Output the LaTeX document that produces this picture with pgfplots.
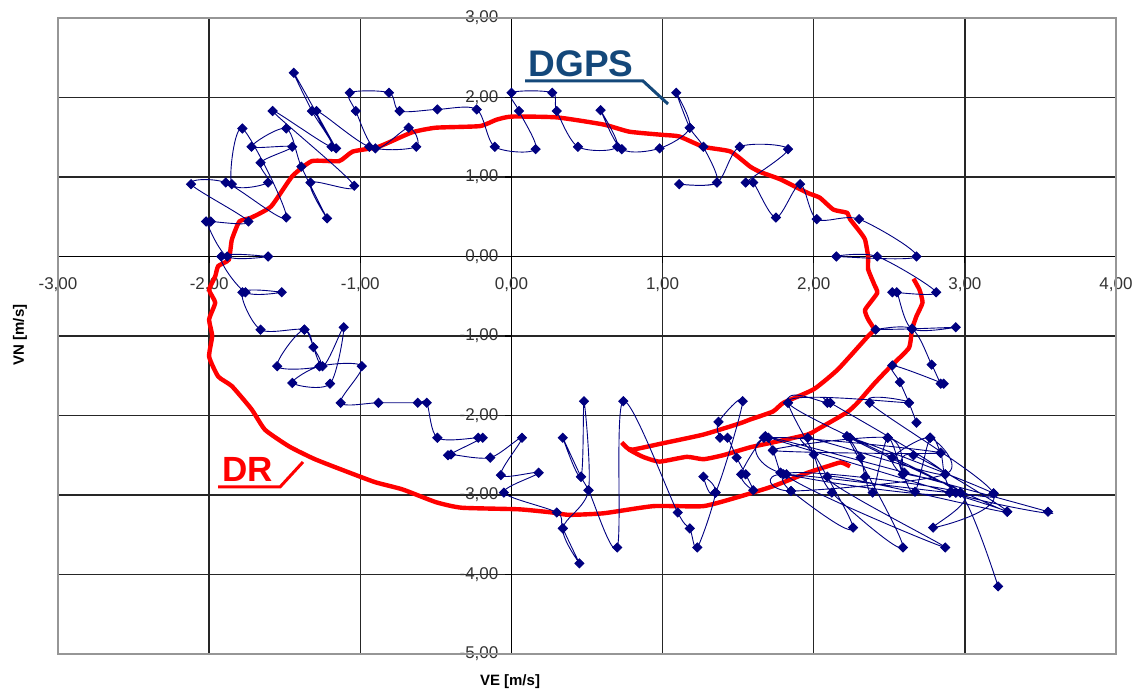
\documentclass[border=0pt]{standalone}
\usepackage{fontspec}
\setmainfont{Liberation Sans}
\usepackage{pgfplots}
\pgfplotsset{compat=1.18}
\definecolor{dgps}{RGB}{0,0,128}
\definecolor{drred}{RGB}{255,0,0}
\definecolor{lblue}{RGB}{20,72,122}
\definecolor{framegray}{RGB}{150,150,150}

\begin{document}
\begin{tikzpicture}[x=1pt,y=1pt]
\begin{axis}[
  at={(29pt,20.5pt)}, anchor=south west,
  scale only axis, width=529pt, height=318pt,
  xmin=-3, xmax=4, ymin=-5, ymax=3,
  enlargelimits=false,
  axis lines=middle,
  axis line style={-, black, line width=0.75pt},
  xtick={-3,-2,-1,0,1,2,3,4}, ytick={-5,-4,-3,-2,-1,0,1,2,3},
  xticklabels={{-3,00},{-2,00},{-1,00},{0,00},{1,00},{2,00},{3,00},{4,00}},
  yticklabels={{-5,00},{-4,00},{-3,00},{-2,00},{-1,00},{0,00},{1,00},{2,00},{3,00}},
  grid=major, major grid style={black!85, line width=0.75pt},
  hide obscured x ticks=false, hide obscured y ticks=false,
  tick style={black, line width=0.6pt}, tick align=outside, major tick length=3pt,
  tick label style={font=\fontsize{8.5}{10}\selectfont, text=black!80},
  xticklabel style={yshift=-4pt},
  clip=false,
]
% DR
\addplot[drred, line width=2.2pt, smooth, tension=0.3] coordinates {
(2.66,-0.28)(2.70,-0.42)(2.72,-0.58)(2.68,-0.75)(2.65,-0.92)(2.63,-1.15)(2.51,-1.38)(2.40,-1.60)(2.29,-1.84)(2.22,-1.96)(2.02,-2.18)(1.96,-2.24)(1.75,-2.33)(1.58,-2.40)(1.40,-2.50)(1.27,-2.55)(1.16,-2.52)(0.98,-2.58)(0.87,-2.52)(0.78,-2.43)(0.73,-2.34)(0.76,-2.40)(0.80,-2.43)(1.00,-2.35)(1.27,-2.24)(1.51,-2.10)(1.58,-2.05)(1.73,-1.95)(1.80,-1.84)(2.00,-1.67)(2.16,-1.42)(2.36,-1.00)(2.40,-0.92)(2.36,-0.79)(2.34,-0.67)(2.42,-0.46)(2.40,-0.35)(2.36,-0.16)(2.36,0.00)(2.34,0.21)(2.31,0.30)(2.24,0.47)(2.22,0.55)(2.13,0.59)(2.04,0.74)(1.96,0.80)(1.78,0.97)(1.65,1.06)(1.58,1.13)(1.45,1.32)(1.27,1.38)(1.11,1.51)(1.00,1.53)(0.78,1.57)(0.61,1.66)(0.30,1.75)(0.00,1.76)(-0.10,1.72)(-0.21,1.64)(-0.50,1.62)(-0.66,1.56)(-0.88,1.38)(-1.05,1.32)(-1.14,1.20)(-1.32,1.20)(-1.45,1.01)(-1.59,0.63)(-1.72,0.49)(-1.80,0.44)(-1.85,0.21)(-1.87,-0.04)(-1.94,-0.12)(-1.96,-0.25)(-2.00,-0.42)(-1.96,-0.58)(-2.00,-0.79)(-1.98,-1.00)(-2.00,-1.26)(-1.94,-1.51)(-1.85,-1.63)(-1.72,-1.92)(-1.63,-2.18)(-1.47,-2.39)(-1.30,-2.55)(-1.07,-2.72)(-0.90,-2.84)(-0.72,-2.93)(-0.50,-3.09)(-0.33,-3.16)(0.05,-3.18)(0.27,-3.22)(0.38,-3.25)(0.61,-3.23)(0.94,-3.14)(1.27,-3.14)(1.51,-3.02)(1.73,-2.89)(1.96,-2.72)(2.09,-2.64)(2.18,-2.59)(2.24,-2.64)
};
% DGPS
\addplot[dgps, line width=0.45pt, smooth, mark=square*, mark size=1.6pt, mark options={rotate=45, fill=dgps, draw=dgps}] coordinates {
(2.68,-2.09)(2.63,-1.84)(2.57,-1.58)(2.52,-1.37)(2.86,-1.60)(2.84,-1.60)(2.78,-1.36)(2.65,-0.91)(2.41,-0.92)(2.65,-0.91)(2.94,-0.89)(2.65,-0.91)(2.55,-0.45)(2.52,-0.45)(2.81,-0.45)(2.42,0.00)(2.15,0.00)(2.68,0.00)(2.30,0.47)(2.02,0.47)(1.91,0.91)(1.75,0.49)(1.60,0.93)(1.55,0.93)(1.83,1.35)(1.51,1.38)(1.36,0.93)(1.11,0.91)(1.36,0.93)(1.27,1.38)(1.18,1.62)(1.09,2.06)(1.18,1.62)(0.98,1.36)(0.73,1.35)(0.59,1.84)(0.70,1.38)(0.44,1.38)(0.30,1.83)(0.27,2.06)(0.00,2.06)(0.05,1.83)(0.16,1.35)(-0.11,1.38)(-0.23,1.85)(-0.49,1.85)(-0.74,1.83)(-0.81,2.06)(-1.07,2.06)(-1.03,1.83)(-0.90,1.36)(-0.68,1.62)(-0.63,1.38)(-0.94,1.38)(-1.29,1.83)(-1.16,1.36)(-1.44,2.31)(-1.32,1.83)(-1.19,1.38)(-1.58,1.83)(-1.04,0.89)(-1.33,0.93)(-1.22,0.48)(-1.39,1.13)(-1.49,1.61)(-1.72,1.38)(-1.45,1.38)(-1.66,1.18)(-1.61,0.93)(-1.85,0.91)(-1.78,1.61)(-1.49,0.49)(-1.89,0.93)(-2.12,0.91)(-1.74,0.44)(-1.99,0.44)(-2.02,0.44)(-1.88,0.00)(-1.61,0.00)(-1.92,0.00)(-1.76,-0.45)(-1.52,-0.45)(-1.78,-0.45)(-1.66,-0.92)(-1.37,-0.92)(-1.31,-1.14)(-1.27,-1.38)(-1.55,-1.38)(-1.37,-0.92)(-1.25,-1.38)(-1.11,-0.89)(-1.20,-1.60)(-1.45,-1.59)(-1.27,-1.38)(-0.99,-1.38)(-1.13,-1.84)(-0.88,-1.84)(-0.62,-1.84)(-0.56,-1.84)(-0.49,-2.28)(-0.22,-2.28)(-0.19,-2.28)(-0.42,-2.50)(-0.40,-2.49)(-0.14,-2.53)(0.07,-2.28)(-0.07,-2.75)(0.18,-2.72)(-0.05,-2.97)(0.30,-3.22)(0.34,-3.42)(0.45,-3.86)(0.34,-3.42)(0.51,-2.94)(0.48,-1.82)(0.46,-2.77)(0.34,-2.28)(0.46,-2.77)(0.51,-2.94)(0.70,-3.66)(0.74,-1.82)(1.10,-3.22)(1.18,-3.42)(1.23,-3.66)(1.35,-2.97)(1.27,-2.77)(1.35,-2.97)(1.53,-1.82)(1.37,-2.08)(1.38,-2.28)(1.43,-2.28)(1.49,-2.53)(1.55,-2.74)(1.60,-2.94)(1.52,-2.74)(1.67,-2.28)(1.73,-2.44)(1.78,-2.72)(1.85,-2.95)(2.26,-3.41)(1.83,-1.84)(2.09,-1.84)(2.11,-1.84)(2.87,-2.74)(1.96,-2.28)(2.00,-2.49)(2.12,-2.97)(2.59,-3.66)(2.22,-2.26)(2.31,-2.53)(2.34,-2.77)(2.39,-2.97)(2.49,-2.28)(2.59,-2.74)(2.67,-2.96)(2.77,-2.28)(2.84,-2.47)(2.94,-2.97)(3.55,-3.21)(1.68,-2.26)(3.28,-3.21)(2.09,-2.77)(2.87,-3.66)(1.82,-2.74)(2.97,-2.97)(2.79,-3.41)(3.19,-2.98)(2.37,-1.84)(2.63,-1.84)(1.83,-1.84)(2.94,-2.97)(1.78,-2.72)(1.70,-2.28)(2.84,-2.47)(1.73,-2.44)(2.49,-2.28)(2.59,-2.74)(2.52,-2.53)(2.77,-2.28)(2.87,-2.74)(1.85,-2.95)(1.80,-2.74)(2.90,-2.97)(3.19,-2.98)(2.24,-2.28)(3.28,-3.21)(2.66,-2.50)(2.60,-2.72)(2.97,-2.97)(3.22,-4.15)
};
\draw[framegray, line width=0.8pt] (rel axis cs:0,0) rectangle (rel axis cs:1,1);
\end{axis}
% axis titles
\node[font=\fontsize{7.5}{9}\selectfont\bfseries] at (255,6.5) {VE [m/s]};
\node[font=\fontsize{7.5}{9}\selectfont\bfseries, rotate=90] at (10,180) {VN [m/s]};
% DGPS annotation
\node[font=\fontsize{18.5}{22}\selectfont\bfseries, text=lblue] at (290.5,315.5) {DGPS};
\draw[lblue, line width=1.5pt] (262.5,307) -- (321.5,307) -- (334,295.5);
% DR annotation
\node[font=\fontsize{17.5}{20}\selectfont\bfseries, text=drred] at (124,113) {DR};
\draw[drred, line width=1.5pt] (109,104) -- (140,104) -- (151.5,116.5);
\pgfresetboundingbox
\useasboundingbox (0,0) rectangle (569,347.5);
\end{tikzpicture}
\end{document}
